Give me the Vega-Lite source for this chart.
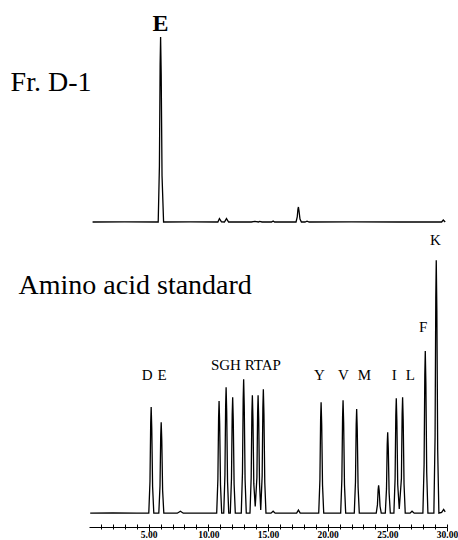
{
  "$schema": "https://vega.github.io/schema/vega-lite/v6.json",
  "padding": {"left": 10, "top": 11, "right": 0, "bottom": 0},
  "spacing": 15,
  "bounds": "flush",
  "config": {"view": {"stroke": null}, "font": "Liberation Serif"},
  "datasets": {
    "fraction": [
      {"t": 0.3, "v": 0}, {"t": 3.0, "v": 0.1}, {"t": 5.8, "v": 0},
      {"t": 5.9, "v": 27.8}, {"t": 5.96, "v": 78.6}, {"t": 6.0, "v": 92.5}, {"t": 6.05, "v": 74.0}, {"t": 6.12, "v": 23.1}, {"t": 6.25, "v": 0},
      {"t": 8.5, "v": 0.1}, {"t": 10.8, "v": 0}, {"t": 10.93, "v": 1.7}, {"t": 11.1, "v": 0.1},
      {"t": 11.35, "v": 0}, {"t": 11.52, "v": 1.7}, {"t": 11.7, "v": 0},
      {"t": 13.6, "v": 0}, {"t": 13.9, "v": 0.3}, {"t": 14.2, "v": 0}, {"t": 14.3, "v": 0.3}, {"t": 14.5, "v": 0},
      {"t": 15.3, "v": 0}, {"t": 15.43, "v": 0.5}, {"t": 15.55, "v": 0},
      {"t": 17.35, "v": 0}, {"t": 17.45, "v": 2.5}, {"t": 17.51, "v": 6.5}, {"t": 17.55, "v": 7.5}, {"t": 17.6, "v": 5.5}, {"t": 17.68, "v": 1.5}, {"t": 17.8, "v": 0},
      {"t": 18.1, "v": 0}, {"t": 18.27, "v": 0.4}, {"t": 18.45, "v": 0},
      {"t": 22.0, "v": 0.1}, {"t": 26.0, "v": 0}, {"t": 29.55, "v": 0}, {"t": 29.69, "v": 1.0}, {"t": 29.85, "v": 0}
    ],
    "standard": [
      {"t": 0.1, "v": 0}, {"t": 2.0, "v": 0.1}, {"t": 4.0, "v": 0},
      {"t": 5.01, "v": 0}, {"t": 5.11, "v": 11.5}, {"t": 5.17, "v": 32.6}, {"t": 5.21, "v": 38.4}, {"t": 5.26, "v": 30.7}, {"t": 5.33, "v": 9.6}, {"t": 5.43, "v": 0},
      {"t": 5.85, "v": 0}, {"t": 5.95, "v": 9.9}, {"t": 6.01, "v": 28.0}, {"t": 6.05, "v": 32.9}, {"t": 6.1, "v": 26.3}, {"t": 6.17, "v": 8.2}, {"t": 6.27, "v": 0},
      {"t": 7.4, "v": 0}, {"t": 7.66, "v": 0.7}, {"t": 7.9, "v": 0},
      {"t": 10.7, "v": 0}, {"t": 10.8, "v": 12.2}, {"t": 10.86, "v": 34.5}, {"t": 10.9, "v": 40.6}, {"t": 10.95, "v": 32.5}, {"t": 11.02, "v": 10.2}, {"t": 11.12, "v": 0},
      {"t": 11.29, "v": 0}, {"t": 11.39, "v": 13.7}, {"t": 11.45, "v": 38.8}, {"t": 11.49, "v": 45.6}, {"t": 11.54, "v": 36.5}, {"t": 11.61, "v": 11.4}, {"t": 11.71, "v": 0},
      {"t": 11.84, "v": 0}, {"t": 11.94, "v": 12.6}, {"t": 12.0, "v": 35.7}, {"t": 12.04, "v": 42.0}, {"t": 12.09, "v": 33.6}, {"t": 12.16, "v": 10.5}, {"t": 12.26, "v": 0},
      {"t": 12.76, "v": 0}, {"t": 12.86, "v": 14.6}, {"t": 12.92, "v": 41.2}, {"t": 12.96, "v": 48.5}, {"t": 13.01, "v": 38.8}, {"t": 13.08, "v": 12.1}, {"t": 13.18, "v": 0},
      {"t": 13.49, "v": 0}, {"t": 13.59, "v": 12.8}, {"t": 13.65, "v": 36.3}, {"t": 13.69, "v": 42.7}, {"t": 13.74, "v": 34.2}, {"t": 13.81, "v": 10.7}, {"t": 13.93, "v": 2.4},
      {"t": 14.07, "v": 12.8}, {"t": 14.13, "v": 36.3}, {"t": 14.17, "v": 42.7}, {"t": 14.22, "v": 34.2}, {"t": 14.29, "v": 10.7}, {"t": 14.39, "v": 1.2},
      {"t": 14.51, "v": 13.5}, {"t": 14.57, "v": 38.2}, {"t": 14.61, "v": 44.9}, {"t": 14.66, "v": 35.9}, {"t": 14.73, "v": 11.2}, {"t": 14.83, "v": 0},
      {"t": 15.25, "v": 0}, {"t": 15.43, "v": 0.7}, {"t": 15.6, "v": 0},
      {"t": 17.4, "v": 0}, {"t": 17.55, "v": 1.1}, {"t": 17.7, "v": 0},
      {"t": 19.25, "v": 0}, {"t": 19.35, "v": 12.1}, {"t": 19.41, "v": 34.2}, {"t": 19.45, "v": 40.2}, {"t": 19.5, "v": 32.2}, {"t": 19.57, "v": 10.1}, {"t": 19.67, "v": 0},
      {"t": 21.09, "v": 0}, {"t": 21.19, "v": 12.3}, {"t": 21.25, "v": 34.8}, {"t": 21.29, "v": 40.9}, {"t": 21.34, "v": 32.7}, {"t": 21.41, "v": 10.2}, {"t": 21.51, "v": 0},
      {"t": 22.23, "v": 0}, {"t": 22.33, "v": 11.3}, {"t": 22.39, "v": 32.0}, {"t": 22.43, "v": 37.7}, {"t": 22.48, "v": 30.2}, {"t": 22.55, "v": 9.4}, {"t": 22.65, "v": 0},
      {"t": 24.07, "v": 0}, {"t": 24.17, "v": 3.0}, {"t": 24.23, "v": 8.6}, {"t": 24.27, "v": 10.1}, {"t": 24.32, "v": 8.1}, {"t": 24.39, "v": 2.5}, {"t": 24.49, "v": 0},
      {"t": 24.83, "v": 0}, {"t": 24.93, "v": 8.8}, {"t": 24.99, "v": 24.9}, {"t": 25.03, "v": 29.3}, {"t": 25.08, "v": 23.4}, {"t": 25.15, "v": 7.3}, {"t": 25.25, "v": 0},
      {"t": 25.55, "v": 0}, {"t": 25.65, "v": 12.5}, {"t": 25.71, "v": 35.4}, {"t": 25.75, "v": 41.6}, {"t": 25.8, "v": 33.3}, {"t": 25.87, "v": 10.4}, {"t": 26.0, "v": 1.5},
      {"t": 26.18, "v": 12.6}, {"t": 26.24, "v": 35.7}, {"t": 26.28, "v": 42.0}, {"t": 26.33, "v": 33.6}, {"t": 26.4, "v": 10.5}, {"t": 26.5, "v": 0},
      {"t": 26.9, "v": 0}, {"t": 27.07, "v": 0.7}, {"t": 27.25, "v": 0},
      {"t": 27.98, "v": 0}, {"t": 28.08, "v": 17.6}, {"t": 28.14, "v": 49.9}, {"t": 28.18, "v": 58.7}, {"t": 28.23, "v": 47.0}, {"t": 28.3, "v": 14.7}, {"t": 28.4, "v": 0},
      {"t": 28.9, "v": 0}, {"t": 29.0, "v": 27.5}, {"t": 29.06, "v": 77.9}, {"t": 29.1, "v": 91.6}, {"t": 29.15, "v": 73.3}, {"t": 29.22, "v": 22.9}, {"t": 29.32, "v": 0},
      {"t": 29.55, "v": 0.3}, {"t": 29.72, "v": 1.4}, {"t": 29.85, "v": 0.5}
    ],
    "peakLabels": [
      {"t": 4.87, "v": 50.1, "label": "D"},
      {"t": 6.13, "v": 50.1, "label": "E"},
      {"t": 13.15, "v": 53.7, "label": "SGH RTAP"},
      {"t": 19.3, "v": 50.1, "label": "Y"},
      {"t": 21.31, "v": 50.1, "label": "V"},
      {"t": 23.07, "v": 50.1, "label": "M"},
      {"t": 25.59, "v": 50.1, "label": "I"},
      {"t": 26.93, "v": 50.1, "label": "L"},
      {"t": 28.0, "v": 67.5, "label": "F"},
      {"t": 29.02, "v": 99.0, "label": "K"}
    ]
  },
  "vconcat": [
    {
      "width": 358,
      "height": 200,
      "layer": [
        {
          "data": {"name": "fraction"},
          "mark": {"type": "line", "color": "black", "strokeWidth": 1.3},
          "encoding": {
            "x": {"field": "t", "type": "quantitative", "scale": {"domain": [0, 30], "nice": false, "zero": false}, "axis": null},
            "y": {"field": "v", "type": "quantitative", "scale": {"domain": [0, 100], "nice": false}, "axis": null}
          }
        },
        {
          "data": {"values": [{"t": 5.99, "v": 99.25, "label": "E"}]},
          "mark": {"type": "text", "fontSize": 24, "fontWeight": "bold", "baseline": "middle", "align": "center", "color": "black"},
          "encoding": {
            "x": {"field": "t", "type": "quantitative"},
            "y": {"field": "v", "type": "quantitative"},
            "text": {"field": "label"}
          }
        },
        {
          "data": {"values": [{"t": -6.57, "v": 65.5, "label": "Fr. D-1"}]},
          "mark": {"type": "text", "fontSize": 28, "baseline": "alphabetic", "align": "left", "color": "black"},
          "encoding": {
            "x": {"field": "t", "type": "quantitative"},
            "y": {"field": "v", "type": "quantitative"},
            "text": {"field": "label"}
          }
        }
      ]
    },
    {
      "width": 358,
      "height": 290,
      "resolve": {"axis": {"x": "independent"}},
      "layer": [
        {
          "data": {"name": "standard"},
          "mark": {"type": "line", "color": "black", "strokeWidth": 1.3},
          "encoding": {
            "x": {
              "field": "t", "type": "quantitative",
              "scale": {"domain": [0, 30], "nice": false, "zero": false},
              "axis": {
                "orient": "bottom",
                "values": [1,2,3,4,5,6,7,8,9,10,11,12,13,14,15,16,17,18,19,20,21,22,23,24,25,26,27,28,29,30],
                "domain": true, "domainColor": "black", "domainWidth": 1.2,
                "ticks": true, "tickColor": "black", "tickWidth": 1,
                "tickSize": {"condition": {"test": "datum.value % 5 === 0", "value": 4}, "value": 2},
                "labelExpr": "datum.value % 5 === 0 ? format(datum.value, '.2f') : ''",
                "labelFont": "Liberation Serif", "labelFontWeight": "bold", "labelFontSize": 9.5,
                "labelColor": "black", "labelPadding": -2, "labelOverlap": false, "labelFlush": false,
                "grid": false, "title": null
              }
            },
            "y": {"field": "v", "type": "quantitative", "scale": {"domain": [-5, 100], "nice": false}, "axis": null}
          }
        },
        {
          "data": {"name": "peakLabels"},
          "mark": {"type": "text", "fontSize": 15, "baseline": "middle", "align": "center", "color": "black"},
          "encoding": {
            "x": {
              "field": "t", "type": "quantitative",
              "axis": {
                "orient": "bottom", "offset": -3,
                "values": [1,2,3,4,5,6,7,8,9,10,11,12,13,14,15,16,17,18,19,20,21,22,23,24,25,26,27,28,29,30],
                "domain": false, "labels": false, "ticks": true, "tickColor": "black", "tickWidth": 1, "tickSize": 3,
                "grid": false, "title": null
              }
            },
            "y": {"field": "v", "type": "quantitative"},
            "text": {"field": "label"}
          }
        },
        {
          "data": {"values": [{"t": -5.9, "v": 79.4, "label": "Amino acid standard"}]},
          "mark": {"type": "text", "fontSize": 28, "baseline": "alphabetic", "align": "left", "color": "black"},
          "encoding": {
            "x": {"field": "t", "type": "quantitative", "axis": null},
            "y": {"field": "v", "type": "quantitative"},
            "text": {"field": "label"}
          }
        }
      ]
    }
  ]
}
